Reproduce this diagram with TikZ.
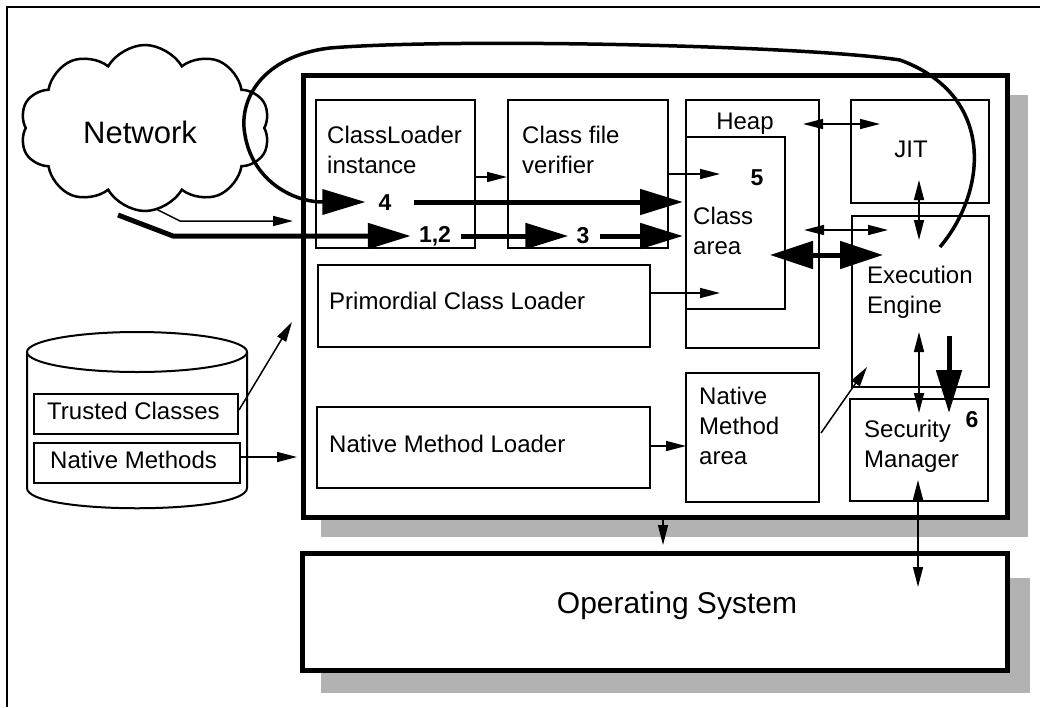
\documentclass[tikz,border=0pt]{standalone}
\usepackage{fontspec}
\setmainfont{Liberation Sans}
\usetikzlibrary{arrows.meta,shapes.symbols,calc}
\definecolor{shadowgray}{gray}{0.70}

\begin{document}
\begin{tikzpicture}[x=1pt,y=-1pt,
  lbl/.style={font=\fontsize{24}{30}\selectfont, align=left, inner sep=0pt, anchor=base west},
  num/.style={font=\fontsize{23}{28}\selectfont\bfseries, inner xsep=10pt, inner ysep=0pt, anchor=base},
  box/.style={draw, rectangle, line width=2.5pt, fill=white, anchor=north west, inner sep=0pt, outer sep=0pt},
  bigbox/.style={draw, rectangle, line width=5pt, fill=white, anchor=north west, inner sep=0pt, outer sep=0pt},
  arr/.style={line width=1.5pt, -{Triangle[length=20pt,width=10pt]}},
  arrdbl/.style={line width=1.5pt, {Triangle[length=20pt,width=10pt]}-{Triangle[length=20pt,width=10pt]}},
  heavyarr/.style={line width=5pt, -{Triangle[length=43pt,width=25pt]}},
  heavydbl/.style={line width=5pt, {Triangle[length=43pt,width=27pt]}-{Triangle[length=43pt,width=27pt]}},
  loopline/.style={line width=3.5pt, -{Triangle[length=43pt,width=25pt]}},
]
\useasboundingbox (0,0) rectangle (1040,707);

% page frame
\draw[line width=1.5pt] (7,707) -- (7,7) -- (1040,7);

% drop shadows
\fill[shadowgray] (321,95) rectangle (1028,537);
\fill[shadowgray] (321,578) rectangle (1030,693);

% virtual machine and operating system
\node[bigbox, minimum width=704pt, minimum height=442pt] (jvm) at (303,75) {};
\node[bigbox, minimum width=705pt, minimum height=117pt] (os) at (302,553) {};
\node[font=\fontsize{30}{34}\selectfont, inner sep=0pt, anchor=base] (ost) at (677,613) {Operating System};

% network cloud
\node[cloud, draw, line width=2.5pt, cloud puffs=10, cloud puff arc=120,
      minimum width=250pt, minimum height=166pt, inner sep=0pt] (net) at (145,128) {};
\node[font=\fontsize{31}{36}\selectfont, inner sep=0pt, anchor=base] (nett) at (140,143) {Network};

% inner components
\node[box, minimum width=159pt, minimum height=148pt] (cl) at (316,100) {};
\node[box, minimum width=160pt, minimum height=148pt] (ver) at (508,100) {};
\node[box, minimum width=133pt, minimum height=248pt] (heap) at (686,100) {};
\node[box, minimum width=99pt, minimum height=172pt] (carea) at (686,137) {};
\node[box, minimum width=138pt, minimum height=103pt] (jit) at (851,100) {};
\node[box, minimum width=137pt, minimum height=171pt] (ee) at (852,216) {};
\node[box, minimum width=138pt, minimum height=102pt] (sm) at (850,399) {};
\node[box, minimum width=133pt, minimum height=129pt] (nma) at (686,373) {};
\node[box, minimum width=332pt, minimum height=82pt] (pcl) at (318,265) {};
\node[box, minimum width=333pt, minimum height=81pt] (nml) at (317,407) {};

% labels (multi-line labels are placed by the baseline of their last line)
\node[lbl] (clt) at (327,173) {ClassLoader\\instance};
\node[lbl] (vert) at (522,173) {Class file\\verifier};
\node[lbl, anchor=base] (heapt) at (745,129) {Heap};
\node[lbl, anchor=base] (jitt) at (911,157) {JIT};
\node[lbl] (careat) at (693,254) {Class\\area};
\node[lbl] (eet) at (867,313) {Execution\\Engine};
\node[lbl] (smt) at (864,467) {Security\\Manager};
\node[lbl] (nmat) at (699,464) {Native\\Method\\area};
\node[lbl] (pclt) at (329,309) {Primordial Class Loader};
\node[lbl] (nmlt) at (329,452) {Native Method Loader};

% step numbers
\node[num] (n4) at (385,210) {4};
\node[num] (n12) at (435,242) {1,2};
\node[num] (n3) at (583,243) {3};
\node[num] (n5) at (757,185) {5};
\node[num] (n6) at (972,427) {6};

% local class store
\draw[line width=2pt, fill=white] (27,352) -- (27,488) .. controls (27,515) and (247,515) .. (247,488) -- (247,352);
\draw[line width=2pt, fill=white] (137,352) ellipse [x radius=110, y radius=20];
\node[box, minimum width=204pt, minimum height=40pt] (tc) at (34,394) {};
\node[box, minimum width=206pt, minimum height=40pt] (nm) at (34,443) {};
\node[lbl] (tct) at (47,419) {Trusted Classes};
\node[lbl] (nmt) at (50,468) {Native Methods};

% flow rows
\coordinate (r4) at (0,202);
\coordinate (r12) at (0,236);
\coordinate (netA) at (156,209);
\coordinate (netAbend) at (180,221);
\coordinate (netB) at (118,215);
\coordinate (netBbend) at (173,236);
\coordinate (loopstart) at (940,247);

% downloads from the network
\draw[arr] (netA) -- (netAbend) -- ($(jvm.north west |- netAbend)+(-10,0)$);
\draw[heavyarr, line join=round] (netB) -- (netBbend) -- ([xshift=2pt]n12.west |- r12);
\draw[heavyarr] (n12.east |- r12) -- ([xshift=2pt]n3.west |- r12);
\draw[heavyarr, shorten >=3pt] (n3.east |- r12) -- (carea.west |- r12);
\draw[heavyarr, shorten >=3pt] ([xshift=12pt]n4.east |- r4) -- (carea.west |- r4);

% loop from the execution engine back to the class loader
\draw[loopline] (loopstart) .. controls (988,190) and (995,95) .. (900,60)
  .. controls (800,45) and (450,38) .. (330,48)
  .. controls (262,56) and (238,100) .. (245,135)
  .. controls (252,178) and (290,202) .. ([xshift=-3pt]n4.west |- r4);

% thin links
\draw[arr] ($(cl.north east)+(0,77)$) -- ($(ver.north west)+(-1,77)$);
\draw[arr] ($(ver.north east)+(0,74)$) -- ($(carea.north west)+(34,37)$);
\draw[arr] ($(pcl.north east)+(0,28)$) -- ($(carea.north west)+(34,156)$);
\draw[arrdbl] ($(heap.north east)+(-16,24)$) -- ($(jit.north west)+(29,24)$);
\draw[arrdbl] ($(heap.north east)+(-15,130)$) -- ($(ee.north west)+(36,14)$);
\draw[heavydbl] ($(carea.north east)+(-15,118)$) -- ($(ee.north west)+(31,39)$);
\draw[arrdbl] ($(jit.south west)+(68,-23)$) -- ($(ee.north west)+(67,24)$);
\draw[arrdbl] ($(ee.south west)+(67,-55)$) -- ($(sm.north west)+(69,14)$);
\draw[heavyarr] ($(ee.south west)+(97,-51)$) -- ($(sm.north west)+(99,14)$);
\draw[arr] ($(nma.north east)+(2,60)$) -- ($(ee.south west)+(15,-20)$);
\draw[arr] ($(nml.north east)+(0,39)$) -- ($(nma.north west)+(0,73)$);
\draw[arr] ($(tc.east)+(1,-4)$) -- ($(jvm.north west)+(-11,247)$);
\draw[arr] ($(nm.east)+(0,-6)$) -- ($(jvm.north west)+(-6,382)$);
\draw[arr] ($(jvm.south west)+(360,0)$) -- ($(os.north west)+(361,-8)$);
\draw[arrdbl] ($(sm.south west)+(68,-21)$) -- ($(os.north west)+(616,34)$);
\end{tikzpicture}
\end{document}
